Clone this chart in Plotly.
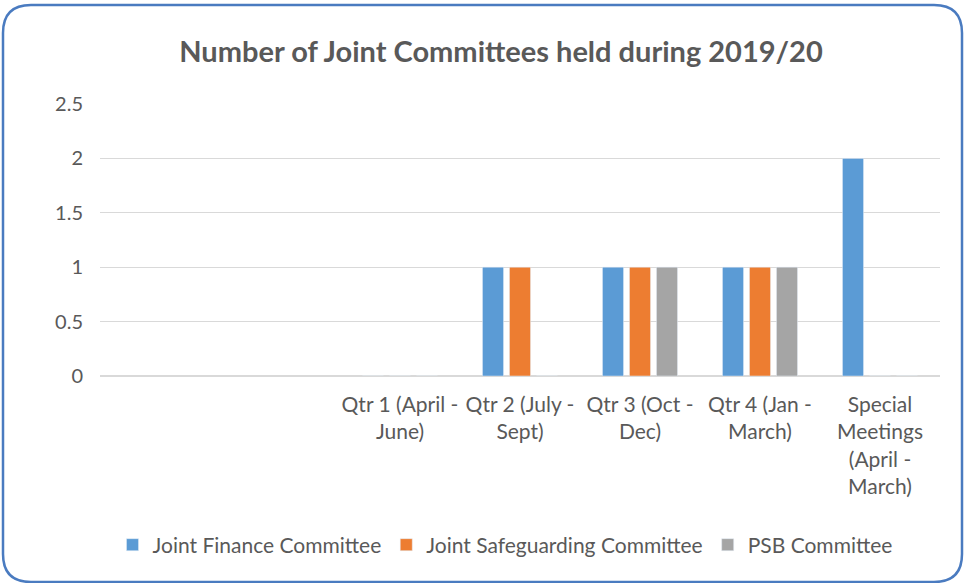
import plotly.graph_objects as go

# data
categories = [' ', '  ', 'Qtr 1 (April -<br>June)', 'Qtr 2 (July -<br>Sept)', 'Qtr 3 (Oct -<br>Dec)',
              'Qtr 4 (Jan -<br>March)', 'Special<br>Meetings<br>(April -<br>March)']
joint_finance = [None, None, 0, 1, 1, 1, 2]
joint_safeguarding = [None, None, 0, 1, 1, 1, 0]
psb = [None, None, 0, 0, 1, 1, 0]

font_family = 'Lato, Open Sans, sans-serif'
text_grey = '#595959'

W, H = 964, 583
L, R, T, B = 100, 24, 104, 207
pw, ph = W - L - R, H - T - B


def px_x(x):
    return (x - L) / pw


def px_y(y):
    return (H - B - y) / ph


def rounded_box(x0, y0, x1, y1, r):
    pts = [
        f'M {px_x(x0 + r)},{px_y(y0)}',
        f'L {px_x(x1 - r)},{px_y(y0)}',
        f'Q {px_x(x1)},{px_y(y0)} {px_x(x1)},{px_y(y0 + r)}',
        f'L {px_x(x1)},{px_y(y1 - r)}',
        f'Q {px_x(x1)},{px_y(y1)} {px_x(x1 - r)},{px_y(y1)}',
        f'L {px_x(x0 + r)},{px_y(y1)}',
        f'Q {px_x(x0)},{px_y(y1)} {px_x(x0)},{px_y(y1 - r)}',
        f'L {px_x(x0)},{px_y(y0 + r)}',
        f'Q {px_x(x0)},{px_y(y0)} {px_x(x0 + r)},{px_y(y0)}',
        'Z',
    ]
    return ' '.join(pts)


fig = go.Figure(
    data=[
        go.Bar(name='Joint Finance Committee', x=categories, y=joint_finance, marker_color='#5B9BD5'),
        go.Bar(name='Joint Safeguarding Committee', x=categories, y=joint_safeguarding, marker_color='#ED7D31'),
        go.Bar(name='PSB Committee', x=categories, y=psb, marker_color='#A5A5A5'),
    ]
)

fig.update_layout(
    width=W,
    height=H,
    margin=dict(l=L, r=R, t=T, b=B),
    paper_bgcolor='white',
    plot_bgcolor='white',
    barmode='group',
    bargap=0.325,
    bargroupgap=0.22,
    font=dict(family=font_family, size=20, color=text_grey),
    title=dict(
        text='<b>Number of Joint Committees held during 2019/20</b>',
        font=dict(size=29, color=text_grey),
        x=(501 / W),
        xanchor='center',
        y=1 - 52 / H,
        yanchor='middle',
    ),
    legend=dict(
        orientation='h',
        x=px_x(505),
        xanchor='center',
        y=px_y(545),
        yanchor='middle',
        font=dict(size=21, color=text_grey),
        itemwidth=30,
    ),
    showlegend=True,
    shapes=[
        dict(type='path', xref='paper', yref='paper',
             path=rounded_box(3, 5, 962, 582, 28),
             line=dict(color='#4A7BC0', width=2.5), layer='above'),
    ],
)

fig.update_yaxes(
    range=[0, 2.5],
    dtick=0.5,
    showgrid=True,
    gridcolor='#D9D9D9',
    gridwidth=1,
    zeroline=True,
    zerolinecolor='#D9D9D9',
    ticks='',
    ticklabelstandoff=16,
    tickfont=dict(size=20, color=text_grey),
)
fig.update_xaxes(
    showgrid=False,
    showline=False,
    ticks='',
    tickangle=0,
    ticklabelstandoff=14,
    tickfont=dict(size=21, color=text_grey),
)

# page body has an 8px default margin; drop it so the chart sits at the window corner
fig.write_html('out.html', config={'displayModeBar': False},
               post_script="document.body.style.margin='0';")
